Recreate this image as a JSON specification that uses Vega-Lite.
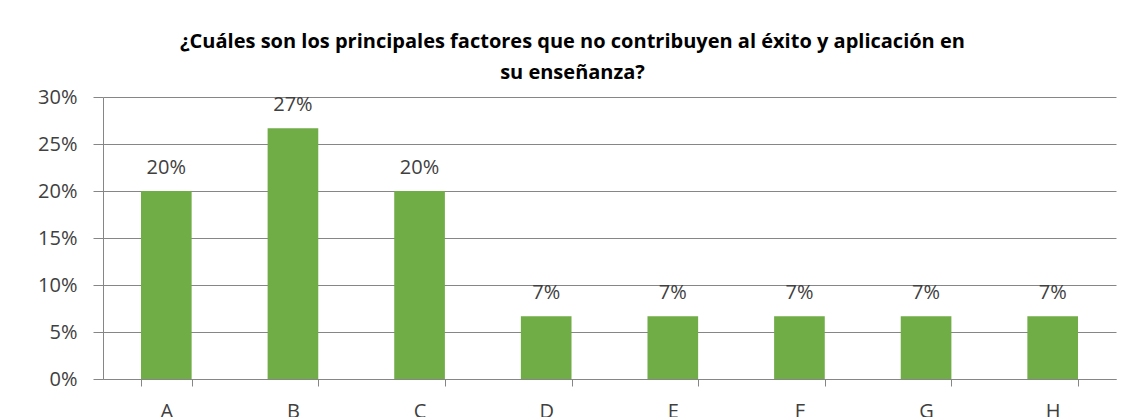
{
  "$schema": "https://vega.github.io/schema/vega-lite/v6.json",
  "width": 1013,
  "height": 282,
  "autosize": {"type": "none"},
  "padding": {"left": 103, "top": 97, "right": 10, "bottom": 38},
  "background": "white",
  "title": {
    "text": ["¿Cuáles son los principales factores que no contribuyen al éxito y aplicación en", "su enseñanza?"],
    "font": "Open Sans",
    "fontSize": 20,
    "fontWeight": "bold",
    "color": "#000000",
    "anchor": "middle",
    "dx": -37,
    "lineHeight": 31,
    "offset": 4
  },
  "data": {
    "values": [
      {"cat": "A", "pct": 0.2},
      {"cat": "B", "pct": 0.26667},
      {"cat": "C", "pct": 0.2},
      {"cat": "D", "pct": 0.06667},
      {"cat": "E", "pct": 0.06667},
      {"cat": "F", "pct": 0.06667},
      {"cat": "G", "pct": 0.06667},
      {"cat": "H", "pct": 0.06667}
    ]
  },
  "config": {
    "view": {"stroke": null},
    "font": "Open Sans"
  },
  "encoding": {
    "x": {
      "field": "cat",
      "type": "nominal",
      "title": null,
      "scale": {"paddingInner": 0.6, "paddingOuter": 0.3},
      "axis": {
        "labelAngle": 0,
        "labelFont": "Open Sans",
        "labelFontSize": 20,
        "labelColor": "#404040",
        "labelPadding": 15,
        "domainColor": "#868686",
        "tickColor": "#868686",
        "tickSize": 7,
        "tickBand": "extent",
        "grid": false
      }
    },
    "y": {
      "field": "pct",
      "type": "quantitative",
      "title": null,
      "scale": {"domain": [0, 0.3]},
      "axis": {
        "format": ".0%",
        "values": [0, 0.05, 0.1, 0.15, 0.2, 0.25, 0.3],
        "labelFont": "Open Sans",
        "labelFontSize": 20,
        "labelColor": "#404040",
        "labelPadding": 16,
        "domainColor": "#868686",
        "tickColor": "#868686",
        "tickSize": 10,
        "gridColor": "#868686",
        "gridWidth": 1
      }
    }
  },
  "layer": [
    {
      "mark": {"type": "bar", "color": "#70AD47"}
    },
    {
      "mark": {"type": "text", "dy": -23, "font": "Open Sans", "fontSize": 20, "color": "#404040"},
      "encoding": {
        "text": {"field": "pct", "type": "quantitative", "format": ".0%"}
      }
    }
  ]
}
